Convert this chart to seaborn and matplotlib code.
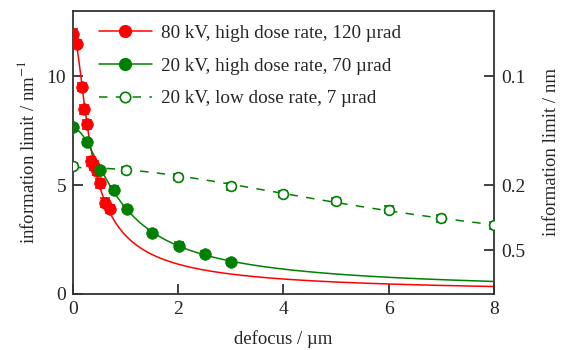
import numpy as np
import pandas as pd
import matplotlib
matplotlib.use("Agg")
import matplotlib.pyplot as plt
from matplotlib.lines import Line2D
import seaborn as sns

# ---- data ----
red_x = [0.0, 0.07, 0.165, 0.215, 0.27, 0.35, 0.40, 0.45, 0.51, 0.61, 0.71]
red_y = [11.96, 11.48, 9.51, 8.49, 7.80, 6.10, 5.89, 5.66, 5.09, 4.20, 3.91]
red_err = [0.2] * len(red_x)

gh_x = [0.0, 0.26, 0.51, 0.77, 1.02, 1.51, 2.01, 2.51, 3.0]
gh_y = [7.65, 6.99, 5.69, 4.80, 3.91, 2.81, 2.22, 1.83, 1.47]
gh_err = [0.15] * len(gh_x)

gl_x = [0, 1, 2, 3, 4, 5, 6, 7, 8]
gl_y = [5.89, 5.69, 5.38, 4.95, 4.59, 4.28, 3.87, 3.47, 3.15]
gl_err = [0.15] * len(gl_x)

labels = ["80 kV, high dose rate, 120 µrad",
          "20 kV, high dose rate, 70 µrad",
          "20 kV, low dose rate, 7 µrad"]

RED = "#ff0000"
GREEN = "#008000"

sns.set_theme(style="ticks")
plt.rcParams["font.family"] = ["Liberation Serif", "DejaVu Serif"]
plt.rcParams["mathtext.fontset"] = "stix"

fig = plt.figure(figsize=(5.63, 3.5), dpi=100)
ax = fig.add_axes([0.1297, 0.16, 0.7477, 0.8086])


def fit_curve(x, y):
    # least-squares fit of 1/k^2 = a + b*x^2 to the measured points
    x = np.asarray(x, float)
    y = np.asarray(y, float)
    b, a = np.polyfit(x ** 2, 1.0 / y ** 2, 1, w=y ** 3)
    xs = np.linspace(0, 8, 400)
    return xs, 1.0 / np.sqrt(a + b * xs ** 2)


series = [
    (red_x, red_y, red_err, RED, False, True),
    (gh_x, gh_y, gh_err, GREEN, False, True),
    (gl_x, gl_y, gl_err, GREEN, True, False),
]

for x, y, e, c, dashed, filled in series:
    xs, ys = fit_curve(x, y)
    sns.lineplot(x=xs, y=ys, ax=ax, color=c, lw=1.1)
    if dashed:
        ax.lines[-1].set_dashes([5.5, 5.5])
    ax.errorbar(x, y, yerr=e, fmt="none", ecolor=c, elinewidth=1.2,
                capsize=3.5, capthick=1.2, zorder=3)
    df = pd.DataFrame({"x": x, "y": y})
    if filled:
        sns.scatterplot(data=df, x="x", y="y", ax=ax, color=c, s=70,
                        edgecolor=c, linewidth=0.5, zorder=4)
    else:
        sns.scatterplot(data=df, x="x", y="y", ax=ax, facecolor="white",
                        edgecolor=c, s=50, linewidth=1.2, zorder=4)

ax.set_xlim(0, 8)
ax.set_ylim(0, 13)
ax.set_xticks([0, 2, 4, 6, 8])
ax.set_yticks([0, 5, 10])
ax.set_xlabel("defocus / µm", fontsize=13.5, labelpad=9)
ax.set_ylabel("information limit / nm$^{-1}$", fontsize=13.5, labelpad=6)

spine_c = "#333333"
for sp in ax.spines.values():
    sp.set_visible(True)
    sp.set_color(spine_c)
    sp.set_linewidth(1.3)
ax.tick_params(direction="in", length=7, width=1.3, color=spine_c,
               labelsize=14, pad=5, top=False, right=False)

ax2 = ax.twinx()
ax2.set_ylim(0, 13)
ax2.set_yticks([10, 5, 2])
ax2.set_yticklabels(["0.1", "0.2", "0.5"])
ax2.set_ylabel("information limit / nm", fontsize=13.5, labelpad=13)
for sp in ax2.spines.values():
    sp.set_visible(False)
ax2.tick_params(direction="in", length=7, width=1.3, color=spine_c,
                labelsize=14, pad=5)
ax2.grid(False)

handles = [
    Line2D([], [], color=RED, lw=1.1, marker="o", markersize=8.5),
    Line2D([], [], color=GREEN, lw=1.1, marker="o", markersize=8.5),
    Line2D([], [], color=GREEN, lw=1.1, marker="o", markersize=7.5,
           markerfacecolor="white", markeredgewidth=1.2, dashes=[5.5, 5.5]),
]
ax.legend(handles, labels, loc="upper left", bbox_to_anchor=(0.03, 1.0),
          frameon=False, fontsize=13.8, handlelength=2.75, handletextpad=0.5,
          labelspacing=0.8, borderaxespad=0.3)

fig.savefig("out.png", dpi=100)
